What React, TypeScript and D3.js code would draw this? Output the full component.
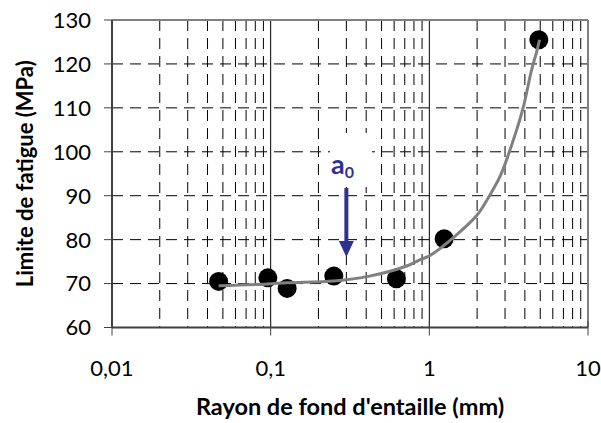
import React from 'react';
import * as d3 from 'd3';

// measured points (Rayon mm, Limite MPa)
const pointR = [0.047, 0.096, 0.127, 0.25, 0.62, 1.24, 4.9];
const pointS = [70.5, 71.3, 68.9, 71.7, 71.1, 80.2, 125.5];

// fitted curve
const curveR = [0.047, 0.096, 0.127, 0.25, 0.42, 0.72, 0.87, 1.0, 1.4, 2.0, 2.35, 2.8, 3.35, 3.9, 4.4, 4.75, 4.95];
const curveS = [69.5, 69.9, 70.2, 70.6, 71.7, 74.0, 75.4, 76.3, 80.3, 85.6, 89.5, 94.5, 102.2, 110.0, 118.5, 122.8, 125.5];

const xTicks = [0.01, 0.1, 1, 10];
const xTickLabels = ['0,01', '0,1', '1', '10'];
const yTicks = [60, 70, 80, 90, 100, 110, 120, 130];

const a0Value = 0.3;

const W = 601;
const H = 423;
const left = 112, right = 588, top = 20, bottom = 327.5;
const font = 'Lato, "Open Sans", sans-serif';

const App = () => {
  const x = d3.scaleLog().domain([0.01, 10]).range([left, right]);
  const y = d3.scaleLinear().domain([60, 130]).range([bottom, top]);

  const minor: number[] = [];
  [0.01, 0.1, 1].forEach(d => {
    for (let k = 2; k <= 9; k++) minor.push(d * k);
  });

  const line = d3.line<number>()
    .x((_, i) => x(curveR[i]))
    .y(d => y(d))
    .curve(d3.curveCatmullRom);

  const ax = x(a0Value);

  return (
    <svg width={W} height={H} style={{ position: 'absolute', left: 0, top: 0, background: '#fff' }}>
      {/* minor vertical grid */}
      {minor.map((d, i) => (
        <line key={'m' + i} x1={x(d)} x2={x(d)} y1={top} y2={bottom}
          stroke="#000" strokeWidth={1} strokeDasharray="11,7" />
      ))}
      {/* horizontal grid */}
      {yTicks.slice(1, -1).map(d => (
        <line key={'h' + d} x1={left} x2={right} y1={y(d)} y2={y(d)}
          stroke="#000" strokeWidth={1} strokeDasharray="11,7" />
      ))}
      {/* major vertical grid */}
      {xTicks.slice(1, -1).map(d => (
        <line key={'v' + d} x1={x(d)} x2={x(d)} y1={top} y2={bottom} stroke="#000" strokeWidth={1} />
      ))}

      {/* frame */}
      <line x1={left} x2={right} y1={top} y2={top} stroke="#808080" strokeWidth={2} />
      <line x1={right} x2={right} y1={top} y2={bottom} stroke="#808080" strokeWidth={2} />
      <line x1={left} x2={left} y1={top} y2={bottom} stroke="#404040" strokeWidth={2} />
      <line x1={left} x2={right} y1={bottom} y2={bottom} stroke="#404040" strokeWidth={2} />

      {/* y ticks */}
      {yTicks.map(d => (
        <g key={'yt' + d}>
          <line x1={left - 8} x2={left} y1={y(d)} y2={y(d)} stroke="#404040" strokeWidth={1} />
          <text x={91} y={y(d)} dy="0.36em" textAnchor="end" fontFamily={font} fontSize={22} fill="#000">{d}</text>
        </g>
      ))}
      {/* x ticks */}
      {xTicks.map((d, i) => (
        <g key={'xt' + d}>
          <line x1={x(d)} x2={x(d)} y1={bottom - 6} y2={bottom + 8} stroke="#404040" strokeWidth={1} />
          <text x={x(d)} y={368} dy="0.36em" textAnchor="middle" fontFamily={font} fontSize={22} fill="#000">{xTickLabels[i]}</text>
        </g>
      ))}

      {/* a0 label box */}
      <rect x={330} y={133} width={42} height={54} fill="#fff" />
      <text x={331} y={173.5} fontFamily={font} fontSize={27} fontWeight="bold" fill="#2E3192">
        a<tspan fontSize={16} dy="4">0</tspan>
      </text>
      <line x1={ax} x2={ax} y1={188} y2={242} stroke="#2E3192" strokeWidth={4} />
      <path d={`M${ax - 7.5},${241} L${ax + 7.5},${241} L${ax},${257} Z`} fill="#2E3192" />

      {/* points */}
      {pointR.map((r, i) => (
        <circle key={'p' + i} cx={x(r)} cy={y(pointS[i])} r={9.5} fill="#000" />
      ))}
      {/* curve passes over the points */}
      <path d={line(curveS) || ''} fill="none" stroke="#808080" strokeWidth={3} strokeLinejoin="round" />

      {/* titles */}
      <text x={(left + right) / 2} y={415} textAnchor="middle" fontFamily={font} fontSize={23.5} fontWeight="bold" fill="#000">
        Rayon de fond d'entaille (mm)
      </text>
      <text transform={`translate(33,${(top + bottom) / 2}) rotate(-90)`} textAnchor="middle" fontFamily={font} fontSize={22} fontWeight="bold" fill="#000">
        Limite de fatigue (MPa)
      </text>
    </svg>
  );
};

export default App;
